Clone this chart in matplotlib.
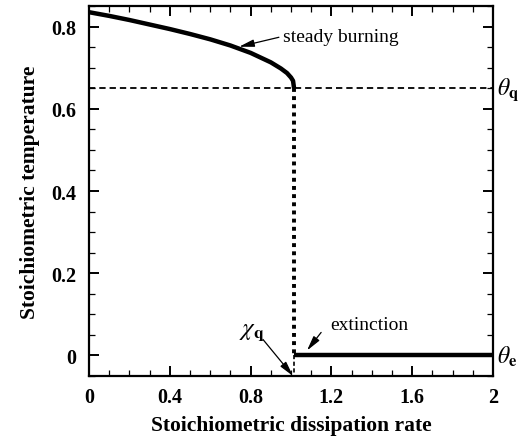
import matplotlib
matplotlib.use("Agg")
import matplotlib.pyplot as plt
from matplotlib.ticker import MultipleLocator

# Data
chi_burn = [0.0, 0.1, 0.2, 0.3, 0.4, 0.5, 0.6, 0.7, 0.8, 0.9, 0.95, 0.98, 1.0, 1.01, 1.015]
theta_burn = [0.835, 0.826, 0.816, 0.805, 0.794, 0.782, 0.769, 0.754, 0.736, 0.713, 0.698, 0.687, 0.676, 0.668, 0.65]
chi_q = 1.015
theta_q = 0.65
theta_e = 0.0
chi_ext = [1.015, 2.0]
theta_ext = [0.0, 0.0]
xticks = [0, 0.4, 0.8, 1.2, 1.6, 2]
xticklabels = ["0", "0.4", "0.8", "1.2", "1.6", "2"]
yticks = [0, 0.2, 0.4, 0.6, 0.8]
yticklabels = ["0", "0.2", "0.4", "0.6", "0.8"]

plt.rcParams['font.family'] = ['Liberation Serif', 'DejaVu Serif']
plt.rcParams['mathtext.fontset'] = 'stix'

fig = plt.figure(figsize=(5.19, 4.39), dpi=100)
ax = fig.add_axes([0.1715, 0.1412, 0.7785, 0.8428])

ax.set_xlim(0, 2)
ax.set_ylim(-0.05, 0.85)

ax.axhline(theta_q, color='black', lw=1.3, linestyle=(0, (3.5, 2.2)), zorder=2)
ax.plot(chi_burn, theta_burn, color='black', lw=3.2, solid_capstyle='butt', zorder=3)
ax.plot([chi_q, chi_q], [theta_q, theta_e], color='black', lw=2.8,
        linestyle=(0, (1, 1.1)), dash_capstyle='butt', zorder=3)
ax.plot([chi_q, chi_q], [theta_e, -0.05], color='black', lw=1.2,
        linestyle=(0, (2.5, 1.5)), zorder=2)
ax.plot(chi_ext, theta_ext, color='black', lw=3.2, solid_capstyle='butt', zorder=3)

ax.set_xticks(xticks)
ax.set_xticklabels(xticklabels)
ax.set_yticks(yticks)
ax.set_yticklabels(yticklabels)
ax.xaxis.set_minor_locator(MultipleLocator(0.1))
ax.yaxis.set_minor_locator(MultipleLocator(0.05))
ax.tick_params(which='both', direction='in', top=True, right=True, color='black')
ax.tick_params(which='major', length=7.5, width=1.4, labelsize=14.5)
ax.tick_params(which='minor', length=4, width=0.9)
ax.tick_params(axis='y', which='major', pad=9)
ax.tick_params(axis='x', which='major', pad=8)
for lab in ax.get_xticklabels() + ax.get_yticklabels():
    lab.set_fontweight('bold')
for s in ax.spines.values():
    s.set_linewidth(1.6)

ax.set_xlabel('Stoichiometric dissipation rate', fontsize=15.5, fontweight='bold', labelpad=6)
ax.set_ylabel('Stoichiometric temperature', fontsize=15.5, fontweight='bold', labelpad=8)

arrow_kw = dict(arrowstyle='-|>,head_length=0.9,head_width=0.22', color='black', lw=0.9,
                shrinkA=0, shrinkB=0, mutation_scale=10)

# steady burning
ax.text(0.96, 0.777, 'steady burning', fontsize=14, ha='left', va='center')
ax.annotate('', xy=(0.743, 0.751), xytext=(0.94, 0.774), arrowprops=arrow_kw)
# extinction
ax.text(1.193, 0.076, 'extinction', fontsize=14, ha='left', va='center')
ax.annotate('', xy=(1.079, 0.012), xytext=(1.149, 0.056), arrowprops=arrow_kw)
# chi_q
ax.text(0.807, 0.059, r'$\chi_{\mathbf{q}}$', fontsize=18, ha='center', va='center')
ax.annotate('', xy=(1.01, -0.05), xytext=(0.861, 0.039), arrowprops=arrow_kw)
# theta labels
ax.text(2.02, theta_q, r'$\theta_{\mathbf{q}}$', fontsize=17, ha='left', va='center',
        clip_on=False)
ax.text(2.02, theta_e, r'$\theta_{\mathbf{e}}$', fontsize=17, ha='left', va='center',
        clip_on=False)

fig.savefig('out.png', dpi=100)
